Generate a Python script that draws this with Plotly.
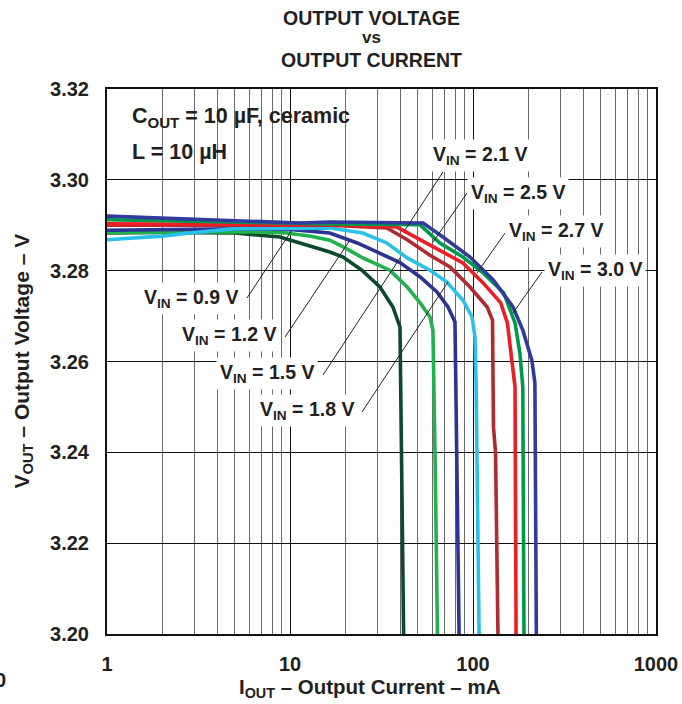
import plotly.graph_objects as go

# ---------------- data ----------------
vin_labels = ["0.9", "1.2", "1.5", "1.8", "2.1", "2.5", "2.7", "3.0"]
colors = ["#0b4a2c", "#21b24b", "#2c3393", "#29c1ec", "#b02a30", "#ee1d25", "#00994c", "#2f3c9e"]

I_09 = [1, 2, 5, 8.8, 13.4, 16.5, 19.5, 24.7, 31, 36.5, 39.9, 40.7, 41.8]
V_09 = [3.2883, 3.2884, 3.2883, 3.2874, 3.2852, 3.2841, 3.2830, 3.2801, 3.2764, 3.2720, 3.2676, 3.2399, 3.1990]

I_12 = [1, 3, 6, 9.6, 13, 16.5, 20, 25, 30, 35.1, 43.7, 51.4, 58.2, 60.4, 62, 64]
V_12 = [3.2884, 3.2885, 3.2886, 3.2883, 3.2876, 3.2867, 3.2850, 3.2828, 3.2814, 3.2801, 3.2764, 3.2729, 3.2698, 3.2669, 3.2399, 3.1990]

I_15 = [1, 2, 5, 10, 12.8, 16.5, 23.3, 31, 39.9, 51.4, 63.5, 73, 79.7, 80.5, 84]
V_15 = [3.2889, 3.2890, 3.2892, 3.2891, 3.2888, 3.2883, 3.2861, 3.2839, 3.2818, 3.2786, 3.2753, 3.2720, 3.2687, 3.2559, 3.1990]

I_18 = [1, 2, 3, 4.9, 10, 16.5, 25, 33.8, 43.7, 58.2, 72, 88.1, 98.8, 102.5, 104, 108]
V_18 = [3.2868, 3.2876, 3.2884, 3.2892, 3.2893, 3.2894, 3.2883, 3.2861, 3.2828, 3.2801, 3.2775, 3.2735, 3.2698, 3.2654, 3.2550, 3.1990]

I_21 = [1, 5, 10, 16.5, 33.8, 43.7, 58.2, 74.8, 96.3, 119.5, 127.8, 128, 129.4, 132.8, 137]
V_21 = [3.2900, 3.2900, 3.2900, 3.2900, 3.2894, 3.2868, 3.2834, 3.2808, 3.2764, 3.2720, 3.2691, 3.2619, 3.2456, 3.2399, 3.1990]

I_25 = [1, 5, 10, 16.5, 38.4, 51.4, 65.9, 88.1, 113.6, 141.8, 154.1, 163.6, 169.7, 172]
V_25 = [3.2903, 3.2902, 3.2902, 3.2901, 3.2896, 3.2868, 3.2845, 3.2817, 3.2773, 3.2729, 3.2685, 3.2603, 3.2544, 3.1990]

I_27 = [1, 3, 10, 16.5, 51.4, 65.9, 88.1, 113.6, 147.2, 169.7, 180.3, 187.1, 190]
V_27 = [3.2912, 3.2908, 3.2905, 3.2903, 3.2901, 3.2861, 3.2830, 3.2795, 3.2751, 3.2685, 3.2619, 3.2544, 3.1990]

I_30 = [1, 3.5, 11.3, 16.5, 53.4, 68.5, 96.3, 129.4, 165.4, 187.1, 209.7, 217.9, 222]
V_30 = [3.2920, 3.2912, 3.2905, 3.2907, 3.2905, 3.2874, 3.2830, 3.2779, 3.2720, 3.2669, 3.2603, 3.2553, 3.1990]

currents = [I_09, I_12, I_15, I_18, I_21, I_25, I_27, I_30]
voltages = [V_09, V_12, V_15, V_18, V_21, V_25, V_27, V_30]

x_tickvals = [1, 10, 100, 1000]
x_ticktext = ["1", "10", "100", "1000"]
y_tickvals = [3.20, 3.22, 3.24, 3.26, 3.28, 3.30, 3.32]
y_ticktext = ["3.20", "3.22", "3.24", "3.26", "3.28", "3.30", "3.32"]

# ---------------- layout helpers (pixel -> paper) ----------------
W, H = 682, 704
L, R, T, B = 107, 656, 89, 634
def px(x):
    return (x - L) / (R - L)
def py(y):
    return (B - y) / (B - T)

FONT = "Liberation Sans, Arial, Helvetica, sans-serif"
BOLD = dict(family=FONT, color="#231f20", weight="bold")

fig = go.Figure()
for lab, c, xs, ys in zip(vin_labels, colors, currents, voltages):
    fig.add_trace(go.Scatter(x=xs, y=ys, mode="lines", name="VIN = %s V" % lab,
                             line=dict(color=c, width=3.6), showlegend=False))

minor_vals = [m * 10 ** d for d in range(3) for m in range(2, 10)]

fig.update_layout(
    width=W, height=H,
    margin=dict(l=L, r=W - R, t=T, b=H - B, autoexpand=False),
    paper_bgcolor="white", plot_bgcolor="white",
    showlegend=False,
    xaxis=dict(type="log", range=[0, 3], tickmode="array", tickvals=x_tickvals, ticktext=x_ticktext,
               showgrid=True, gridcolor="#111", gridwidth=1, automargin=False,
               minor=dict(tickmode="array", tickvals=minor_vals, showgrid=True, gridcolor="#6a6a6a", gridwidth=1, ticks=""),
               showline=True, linecolor="#111", linewidth=2, mirror=True, ticks="",
               tickfont=dict(size=20, **BOLD), ticklabelstandoff=11, zeroline=False),
    yaxis=dict(range=[3.20, 3.32], tickmode="array", tickvals=y_tickvals, ticktext=y_ticktext,
               showgrid=True, gridcolor="#111", gridwidth=1, automargin=False,
               showline=True, linecolor="#111", linewidth=2, mirror=True, ticks="",
               tickfont=dict(size=20, **BOLD), ticklabelstandoff=12, zeroline=False),
)

# white box behind the conditions text
fig.add_shape(type="rect", xref="paper", yref="paper", x0=px(109), x1=px(366), y0=py(171), y1=py(97),
              fillcolor="white", line=dict(width=0), layer="between")

ann = []
def text(x, y, s, size=19, xanchor="center", bg=None, angle=0):
    d = dict(xref="paper", yref="paper", x=px(x), y=py(y), text=s, showarrow=False,
             xanchor=xanchor, yanchor="middle", font=dict(size=size, **BOLD), textangle=angle)
    if bg:
        d.update(bgcolor=bg, borderpad=3)
    ann.append(d)

# titles
text(371, 18, "OUTPUT VOLTAGE", size=19.5)
text(371, 38, "vs", size=17)
text(371, 60, "OUTPUT CURRENT", size=19.5)
text(22.5, 361, "V<sub>OUT</sub> – Output Voltage – V", size=21, angle=-90)
text(370, 688, "I<sub>OUT</sub> – Output Current – mA", size=20.5)
text(8, 680, "0", size=20, xanchor="right")

# conditions
text(130, 118, "C<sub>OUT</sub> = 10 µF, ceramic", size=21.5, xanchor="left")
text(130, 152, "L = 10 µH", size=21.5, xanchor="left")

# curve labels: (center x, center y, leader start, leader end)
label_pos = [
    (191, 298, (247, 298), (292, 230)),
    (229, 335, (285, 337), (350, 240)),
    (267, 373, (323, 375), (400, 258)),
    (307, 410, (362, 412), (448, 282)),
    (480, 155, (443, 172), (405, 230)),
    (518, 193, (467, 193), (433, 242)),
    (556, 232, (505, 233), (477, 273)),
    (595, 270, (542, 272), (513, 313)),
]
for lab, (cx, cy, p0, p1) in zip(vin_labels, label_pos):
    fig.add_shape(type="line", xref="paper", yref="paper", x0=px(p0[0]), y0=py(p0[1]),
                  x1=px(p1[0]), y1=py(p1[1]), line=dict(color="#231f20", width=1))
    text(cx, cy, "V<sub>IN</sub> = %s V" % lab, size=19.5, bg="white")

fig.update_layout(annotations=ann)
fig.write_html("out.html")
